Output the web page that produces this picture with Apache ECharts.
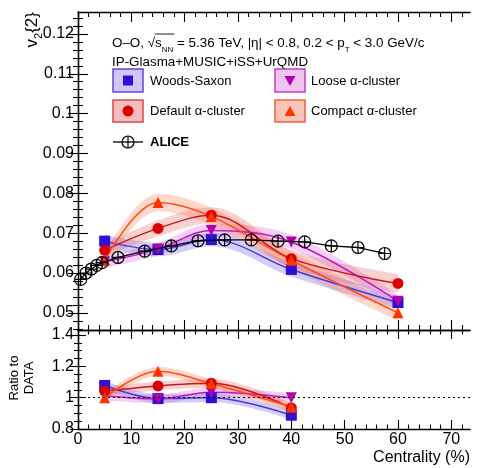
<!DOCTYPE html>
<html><head><meta charset="utf-8">
<script src="https://cdn.jsdelivr.net/npm/echarts@6/dist/echarts.min.js"></script>
<style>html,body{margin:0;padding:0;background:#fff}#c{width:477px;height:468px}</style>
</head><body><div id="c"></div>
<script>
// ---------- data ----------
const aliceCent = [0.5,1.5,2.5,3.5,4.5,7.5,12.5,17.5,22.5,27.5,32.5,37.5,42.5,47.5,52.5,57.5];
const aliceV2   = [0.0584,0.0600,0.0610,0.0619,0.0626,0.0639,0.0655,0.0668,0.0681,0.0683,0.0683,0.0680,0.0678,0.0668,0.0664,0.0649];

const modelCent = [5,15,25,40,60];
const wsV2      = [0.0680,0.0659,0.0684,0.0609,0.0526];
const wsErr     = [0.0016,0.0017,0.0017,0.0018,0.0016];
const defV2     = [0.0657,0.0712,0.0745,0.0636,0.0574];
const defErr    = [0.0016,0.0020,0.0020,0.0022,0.0024];
const looseV2   = [0.0628,0.0660,0.0707,0.0678,0.0529];
const looseErr  = [0.0015,0.0016,0.0016,0.0018,0.0016];
const compV2    = [0.0632,0.0777,0.0742,0.0632,0.0500];
const compErr   = [0.0017,0.0022,0.0022,0.0022,0.0020];

const ratioCent  = [5,15,25,40];
const wsRatio    = [1.078,0.994,1.000,0.888];
const defRatio   = [1.042,1.075,1.092,0.935];
const looseRatio = [1.012,0.992,1.035,1.000];
const compRatio  = [1.000,1.168,1.090,0.940];
const ratioErr   = [0.028,0.028,0.028,0.028];

const xMajor = [0,10,20,30,40,50,60,70];
const yTopMajor = [0.05,0.06,0.07,0.08,0.09,0.1,0.11,0.12];
const yBotMajor = [0.8,1,1.2,1.4];

// ---------- helpers ----------
const FONT = 'Liberation Sans, Arial, sans-serif';
const X_MAX = 73.5, YT_MIN = 0.0457, YT_MAX = 0.1255, YB_MIN = 0.8, YB_MAX = 1.432;
function range(a, b, s) { const r = []; for (let v = a; v <= b + 1e-9; v += s) r.push(Math.round(v * 10000) / 10000); return r; }
const xMinor = range(2, 72, 2).filter(v => v % 10 !== 0);
const yTopMinor = range(0.046, 0.124, 0.002).filter(v => Math.abs(v * 100 - Math.round(v * 100)) > 1e-6);
const yBotMinor = range(0.85, 1.4, 0.05).filter(v => Math.abs(v * 5 - Math.round(v * 5)) > 1e-6);

const pairs = (xs, ys) => xs.map((x, i) => [x, ys[i]]);

function xAx(grid, pos, custom, len, labels, lineShow) {
  return {
    type: 'value', gridIndex: grid, position: pos, min: 0, max: X_MAX,
    axisLine: { show: lineShow, lineStyle: { color: '#000', width: 1.3 } },
    axisTick: { show: true, inside: true, length: len, customValues: custom, lineStyle: { color: '#000', width: 1.1 } },
    axisLabel: labels ? { show: true, customValues: xMajor, color: '#000', fontSize: 16, fontFamily: FONT, margin: 3 } : { show: false },
    splitLine: { show: false }
  };
}
function yAx(grid, pos, min, max, custom, len, labelVals, lineShow) {
  return {
    type: 'value', gridIndex: grid, position: pos, min: min, max: max,
    axisLine: { show: lineShow, lineStyle: { color: '#000', width: 1.3 } },
    axisTick: { show: true, inside: true, length: len, customValues: custom, lineStyle: { color: '#000', width: 1.1 } },
    axisLabel: labelVals ? { show: true, customValues: labelVals, color: '#000', fontSize: 16, fontFamily: FONT, margin: 4 } : { show: false },
    splitLine: { show: false }
  };
}

const xAxis = [
  xAx(0, 'bottom', xMajor, 10, false, true),   // 0
  xAx(0, 'bottom', xMinor, 5, false, false),
  xAx(0, 'top', xMajor, 10, false, true),
  xAx(0, 'top', xMinor, 5, false, false),
  xAx(1, 'bottom', xMajor, 9, true, true),     // 4
  xAx(1, 'bottom', xMinor, 4.5, false, false),
  xAx(1, 'top', xMajor, 9, false, true),
  xAx(1, 'top', xMinor, 4.5, false, false)
];
const yAxis = [
  yAx(0, 'left', YT_MIN, YT_MAX, yTopMajor, 10, yTopMajor, true), // 0
  yAx(0, 'left', YT_MIN, YT_MAX, yTopMinor, 5, null, false),
  yAx(0, 'right', YT_MIN, YT_MAX, yTopMajor, 10, null, true),
  yAx(0, 'right', YT_MIN, YT_MAX, yTopMinor, 5, null, false),
  yAx(1, 'left', YB_MIN, YB_MAX, yBotMajor, 8, yBotMajor, true),  // 4
  yAx(1, 'left', YB_MIN, YB_MAX, yBotMinor, 4, null, false),
  yAx(1, 'right', YB_MIN, YB_MAX, yBotMajor, 8, null, true),
  yAx(1, 'right', YB_MIN, YB_MAX, yBotMinor, 4, null, false)
];

const SMOOTH = 0.35;
const series = [];
// bands: data given as [value, centrality] so that the stacked dimension is the y value
function band(name, xs, ys, errs, color, xi, yi) {
  series.push({
    type: 'line', name: name + '_lo', xAxisIndex: xi, yAxisIndex: yi, stack: name,
    encode: { x: 1, y: 0 },
    data: xs.map((x, i) => [ys[i] - errs[i], x]), smooth: SMOOTH, symbol: 'none',
    lineStyle: { opacity: 0 }, silent: true, z: 1
  });
  series.push({
    type: 'line', name: name + '_hi', xAxisIndex: xi, yAxisIndex: yi, stack: name,
    encode: { x: 1, y: 0 },
    data: xs.map((x, i) => [2 * errs[i], x]), smooth: SMOOTH, symbol: 'none',
    lineStyle: { opacity: 0 }, areaStyle: { color: color, opacity: 1 }, silent: true, z: 1
  });
}
function model(name, xs, ys, lineColor, sym, symColor, rot, xi, yi, size) {
  series.push({
    type: 'line', name: name, xAxisIndex: xi, yAxisIndex: yi,
    data: pairs(xs, ys), smooth: SMOOTH, symbol: sym, symbolSize: size, symbolRotate: rot,
    lineStyle: { color: lineColor, width: 1.5 }, itemStyle: { color: symColor }, z: 3
  });
}
const C = {
  ws:   { band: 'rgba(110,90,235,0.30)', line: '#4a38d8', mk: '#2c10d4' },
  def:  { band: 'rgba(232,70,70,0.25)',  line: '#c81818', mk: '#dd0000' },
  loose:{ band: 'rgba(210,70,210,0.25)', line: '#c018c0', mk: '#b000b0' },
  comp: { band: 'rgba(255,110,70,0.28)', line: '#ff4a1a', mk: '#ff3300' }
};
// top panel
band('wsB', modelCent, wsV2, wsErr, C.ws.band, 0, 0);
band('looseB', modelCent, looseV2, looseErr, C.loose.band, 0, 0);
band('defB', modelCent, defV2, defErr, C.def.band, 0, 0);
band('compB', modelCent, compV2, compErr, C.comp.band, 0, 0);
model('Woods-Saxon', modelCent, wsV2, C.ws.line, 'rect', C.ws.mk, 0, 0, 0, 11);
model('Loose', modelCent, looseV2, C.loose.line, 'triangle', C.loose.mk, 180, 0, 0, 11);
model('Default', modelCent, defV2, C.def.line, 'circle', C.def.mk, 0, 0, 0, 11);
model('Compact', modelCent, compV2, C.comp.line, 'triangle', C.comp.mk, 0, 0, 0, 11);
// ALICE
const aliceSym = 'path://M0,-10A10,10 0 1,1 0,10A10,10 0 1,1 0,-10Z M-10,0L10,0 M0,-10L0,10';
series.push({
  type: 'line', name: 'ALICE', xAxisIndex: 0, yAxisIndex: 0, data: pairs(aliceCent, aliceV2),
  symbol: aliceSym, symbolSize: 12, lineStyle: { color: '#000', width: 1.3 },
  itemStyle: { color: 'rgba(255,255,255,0)', borderColor: '#000', borderWidth: 1.2 }, z: 4
});
// ratio panel
band('wsR', ratioCent, wsRatio, ratioErr, C.ws.band, 4, 4);
band('looseR', ratioCent, looseRatio, ratioErr, C.loose.band, 4, 4);
band('defR', ratioCent, defRatio, ratioErr, C.def.band, 4, 4);
band('compR', ratioCent, compRatio, ratioErr, C.comp.band, 4, 4);
model('WS_r', ratioCent, wsRatio, C.ws.line, 'rect', C.ws.mk, 0, 4, 4, 11);
model('Loose_r', ratioCent, looseRatio, C.loose.line, 'triangle', C.loose.mk, 180, 4, 4, 11);
model('Def_r', ratioCent, defRatio, C.def.line, 'circle', C.def.mk, 0, 4, 4, 11);
model('Comp_r', ratioCent, compRatio, C.comp.line, 'triangle', C.comp.mk, 0, 4, 4, 11);
series[series.length - 1].markLine = {
  silent: true, symbol: 'none', label: { show: false },
  lineStyle: { color: '#000', type: [2, 3], width: 1 }, data: [{ yAxis: 1 }]
};

// ---------- header with measured overline ----------
const HF = 13.4, HS = 8;
const cv = document.createElement('canvas').getContext('2d');
function tw(t, size) { cv.font = size + 'px ' + FONT; return cv.measureText(t).width; }
const HX = 112, HY = 42;
const olX1 = HX + tw('O–O, √', HF) - 0.5;
const olX2 = HX + tw('O–O, √s', HF) + tw('NN', HS) + 1;

// ---------- legend / texts (graphic) ----------
const tStyle = (txt, x, y, extra) => ({ type: 'text', x: x, y: y, style: Object.assign({ text: txt, font: '13px ' + FONT, fill: '#000', textVerticalAlign: 'middle' }, extra || {}) });
const graphic = [
  { type: 'text', x: HX, y: HY, style: {
      text: '{n|O–O, √s}{sub|NN}{n| = 5.36 TeV, |η| < 0.8, 0.2 < p}{sub|T}{n| < 3.0 GeV/c}',
      textVerticalAlign: 'middle', fill: '#000',
      rich: { n: { fontSize: HF, fontFamily: FONT, verticalAlign: 'bottom', lineHeight: 16 },
              sub: { fontSize: HS, fontFamily: FONT, verticalAlign: 'bottom', lineHeight: 12, padding: [0, 0, -4, 0] } } } },
  { type: 'line', shape: { x1: olX1, y1: HY - 8, x2: olX2, y2: HY - 8 }, style: { stroke: '#000', lineWidth: 0.9 } },
  tStyle('IP-Glasma+MUSIC+iSS+UrQMD', 112, 62, { font: HF + 'px ' + FONT }),
  // WS
  { type: 'rect', shape: { x: 113, y: 69, width: 30, height: 23 }, style: { fill: '#cfc8f6', stroke: '#5a48e0', lineWidth: 1.5 } },
  { type: 'rect', shape: { x: 123, y: 75.5, width: 10, height: 10 }, style: { fill: '#2c10d4' } },
  tStyle('Woods-Saxon', 150, 81),
  // Default
  { type: 'rect', shape: { x: 113, y: 100, width: 30, height: 22 }, style: { fill: '#f5bcbc', stroke: '#d84848', lineWidth: 1.5 } },
  { type: 'circle', shape: { cx: 128, cy: 111, r: 5.5 }, style: { fill: '#dd0000' } },
  tStyle('Default α-cluster', 150, 111),
  // ALICE
  { type: 'line', shape: { x1: 113, y1: 142, x2: 143, y2: 142 }, style: { stroke: '#000', lineWidth: 1.3 } },
  { type: 'circle', shape: { cx: 128, cy: 142, r: 6 }, style: { fill: 'none', stroke: '#000', lineWidth: 1.2 } },
  { type: 'line', shape: { x1: 128, y1: 136, x2: 128, y2: 148 }, style: { stroke: '#000', lineWidth: 1.2 } },
  tStyle('ALICE', 150, 142, { font: 'bold 13px ' + FONT }),
  // Loose
  { type: 'rect', shape: { x: 275, y: 69, width: 30, height: 23 }, style: { fill: '#f0c4f0', stroke: '#c040c0', lineWidth: 1.5 } },
  { type: 'polygon', shape: { points: [[284.5, 76], [295.5, 76], [290, 86]] }, style: { fill: '#b000b0' } },
  tStyle('Loose α-cluster', 311, 81),
  // Compact
  { type: 'rect', shape: { x: 275, y: 100, width: 30, height: 22 }, style: { fill: '#fbc6b8', stroke: '#f06040', lineWidth: 1.5 } },
  { type: 'polygon', shape: { points: [[284.5, 116], [295.5, 116], [290, 106]] }, style: { fill: '#ff3300' } },
  tStyle('Compact α-cluster', 311, 111),
  // axis titles
  { type: 'text', x: 32, y: 12, rotation: Math.PI / 2, style: {
      text: '{v|v}{s|2}{2}', font: '17px ' + FONT, textAlign: 'right', textVerticalAlign: 'middle', fill: '#000',
      rich: { v: { fontSize: 17, fontFamily: FONT, verticalAlign: 'bottom' }, s: { fontSize: 11, fontFamily: FONT, verticalAlign: 'bottom', padding: [0, 0, -4, 0] } } } },
  { type: 'text', x: 22, y: 378, rotation: Math.PI / 2, style: { text: 'Ratio to\nDATA', font: '13px ' + FONT, fill: '#000', textAlign: 'center', textVerticalAlign: 'middle', lineHeight: 15 } },
  tStyle('Centrality (%)', 470, 458, { font: '16px ' + FONT, textAlign: 'right' })
];

const chart = echarts.init(document.getElementById('c'), null, { renderer: 'canvas' });
chart.setOption({
  animation: false,
  backgroundColor: '#fff',
  grid: [
    { left: 78, right: 7, top: 12, height: 318 },
    { left: 78, right: 7, top: 330, height: 99 }
  ],
  xAxis: xAxis, yAxis: yAxis, series: series, graphic: graphic
});
</script></body></html>
